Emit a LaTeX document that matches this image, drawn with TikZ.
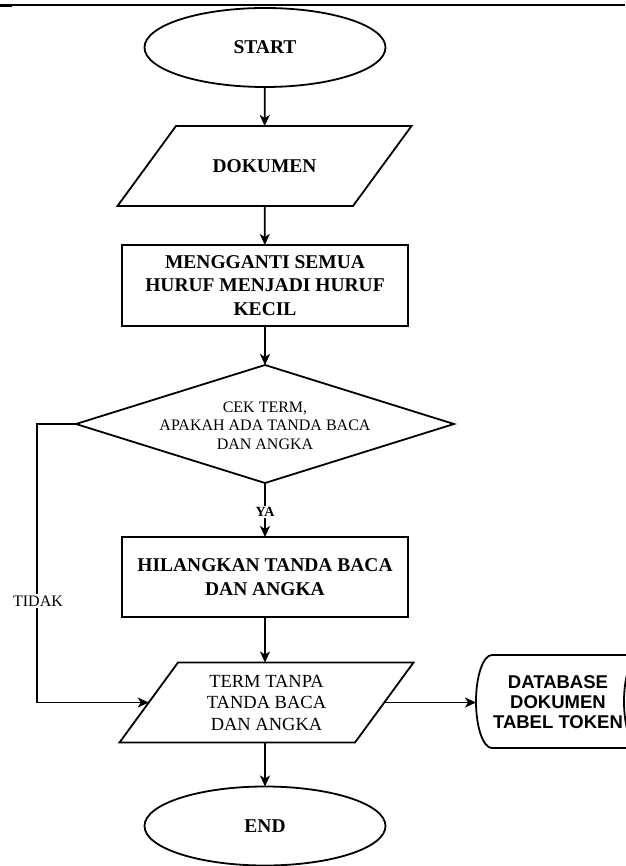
\documentclass[tikz,border=0pt]{standalone}
\usepackage{fontspec}
\setmainfont{Liberation Serif}
\newfontfamily\dbfont{Liberation Sans}
\usetikzlibrary{shapes.geometric,arrows.meta}

\begin{document}
\begin{tikzpicture}[x=1pt,y=-1pt,
  line width=1.8pt,
  every node/.style={inner sep=0pt, outer sep=0pt},
  boldtext/.style={font=\bfseries\fontsize{19.5}{23.5}\selectfont},
  terminal/.style={ellipse, draw, minimum width=241pt, minimum height=79pt, boldtext},
  % body of an input/output box; its slanted outline is drawn from the corners
  iobox/.style={rectangle, minimum width=235.5pt, minimum height=80pt, align=center},
  procbox/.style={rectangle, draw, minimum width=286pt, minimum height=81pt, align=center, boldtext},
  decision/.style={diamond, draw, minimum width=378pt, minimum height=118pt},
  plaintext/.style={align=center, font=\fontsize{16}{18.5}\selectfont},
  flow/.style={-{Stealth[length=11pt,width=10pt,inset=3pt]}, line width=1.8pt},
  edgelabel/.style={fill=white, inner sep=1.5pt}
]
\useasboundingbox (0,0) rectangle (625,866);

% rule across the top of the page
\draw[line width=1.2pt] (0,5) -- (625,5);
\draw[line width=2.4pt] (0,5.6) -- (12,5.6);

% main column
\node[terminal] (start) at (265,47.5) {START};

\node[iobox, boldtext] (doc) at (264.5,166) {DOKUMEN};
\draw ([xshift=29.25pt]doc.north west) -- ([xshift=29.25pt]doc.north east)
   -- ([xshift=-29.25pt]doc.south east) -- ([xshift=-29.25pt]doc.south west) -- cycle;

\node[procbox] (lower) at (265,285.5) {MENGGANTI SEMUA\\HURUF MENJADI HURUF\\KECIL};
\node[decision] (cek) at (265,424) {};
\node[plaintext] (cektext) at (265,425.5) {CEK TERM,\\APAKAH ADA TANDA BACA\\DAN ANGKA};
\node[procbox, minimum height=80pt] (hapus) at (265,577) {HILANGKAN TANDA BACA\\DAN ANGKA};

\node[iobox, font=\fontsize{18.5}{21.5}\selectfont] (term) at (266.5,702.5) {TERM TANPA\\TANDA BACA\\DAN ANGKA};
\draw ([xshift=29.25pt]term.north west) -- ([xshift=29.25pt]term.north east)
   -- ([xshift=-29.25pt]term.south east) -- ([xshift=-29.25pt]term.south west) -- cycle;

\node[terminal] (end) at (265,826) {END};

% stored-data shape for the token table
\draw (492,655) -- (640,655)
  .. controls (631.2,655) and (624,675.8) .. (624,701.5)
  .. controls (624,727.2) and (631.2,748) .. (640,748)
  -- (492,748)
  .. controls (483.2,748) and (476,727.2) .. (476,701.5)
  .. controls (476,675.8) and (483.2,655) .. (492,655) -- cycle;
\coordinate (dbin) at (476,702.5);
\node[align=center, font=\dbfont\bfseries\fontsize{18.5}{20}\selectfont] (db) at (558,702.5)
  {DATABASE\\DOKUMEN\\TABEL TOKEN};

% connectors
\draw[flow] (start) -- (doc);
\draw[flow] (doc) -- (lower);
\draw[flow] (lower) -- (cek);
\draw[flow] (cek.south) -- (hapus.north);
\draw[flow] (hapus.south) -- (hapus.south |- term.north);
\draw[flow] (term.south -| end.north) -- (end);
\draw[flow] (cek.west) -- ++(-39,0) |- (term.west);
\draw[flow] (term.east) -- (dbin);

% branch labels
\node[edgelabel, font=\bfseries\fontsize{14}{16}\selectfont] (ya) at (265,512) {YA};
\node[edgelabel, font=\fontsize{16}{18}\selectfont] (tidak) at (38,601) {TIDAK};
\end{tikzpicture}
\end{document}
